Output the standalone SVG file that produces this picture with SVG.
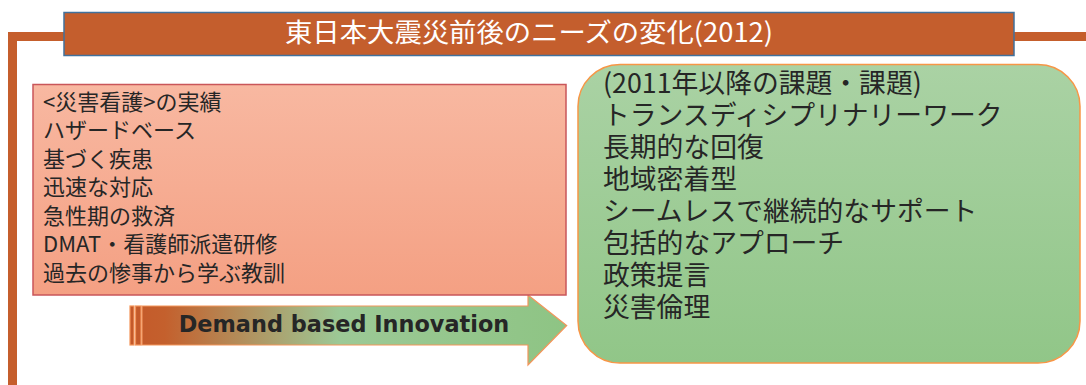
<svg xmlns="http://www.w3.org/2000/svg" width="1086" height="385" viewBox="0 0 1086 385">
<defs>
<linearGradient id="gPink" x1="0" y1="0" x2="0" y2="1"><stop offset="0" stop-color="#F8B8A1"/><stop offset="1" stop-color="#F4A083"/></linearGradient>
<linearGradient id="gGreen" x1="0" y1="0" x2="0" y2="1"><stop offset="0" stop-color="#AAD2A4"/><stop offset="1" stop-color="#91C688"/></linearGradient>
<linearGradient id="gArrow" gradientUnits="userSpaceOnUse" x1="130" y1="0" x2="567" y2="0"><stop offset="0" stop-color="#C4592A"/><stop offset="0.08" stop-color="#C4602D"/><stop offset="0.48" stop-color="#9CC996"/><stop offset="1" stop-color="#8EC484"/></linearGradient>
<style>
.frame{fill:none;stroke:#C55E2C;stroke-width:9}
.jp{font-family:"Noto Sans CJK JP","Noto Sans",sans-serif;fill:#262626}
.pk{font-size:22px}
.gr{font-size:26.8px}
</style>
</defs>
<g id="frame">
<path class="frame" d="M12.5,385 V36.5 H66"/>
<path class="frame" d="M1013,36.5 H1086"/>
</g>
<g id="title">
<rect x="64" y="12.5" width="950" height="43" fill="#C45E2D" stroke="#41719C" stroke-width="1.5"/>
<text x="285" y="41.5" textLength="488" lengthAdjust="spacingAndGlyphs" class="jp" style="font-size:26.5px;fill:#FFFFFF">東日本大震災前後のニーズの変化(2012)</text>
</g>
<g id="connectors">
<path d="M142,306 H528 V295 L566.7,325.5 L528,365 V345 H142 Z" fill="url(#gArrow)" stroke="#F4955A" stroke-width="1.2"/>
<rect x="130" y="306" width="4" height="39" fill="url(#gArrow)" stroke="#F4955A" stroke-width="1.2"/>
<rect x="135.5" y="306" width="5.5" height="39" fill="url(#gArrow)" stroke="#F4955A" stroke-width="1.2"/>
<text x="344" y="332" text-anchor="middle" style="font-family:'DejaVu Sans',sans-serif;font-weight:bold;font-size:22.4px;fill:#262626">Demand based Innovation</text>
</g>
<g id="before">
<rect x="33" y="84.5" width="533" height="210.5" fill="url(#gPink)" stroke="#C9565A" stroke-width="1.5"/>
<text class="jp pk" x="43">
<tspan x="43" y="109.5">&lt;災害看護&gt;の実績</tspan>
<tspan x="43" y="138">ハザードベース</tspan>
<tspan x="43" y="166.5">基づく疾患</tspan>
<tspan x="43" y="195">迅速な対応</tspan>
<tspan x="43" y="223.5">急性期の救済</tspan>
<tspan x="43" y="252">DMAT・看護師派遣研修</tspan>
<tspan x="43" y="280.5">過去の惨事から学ぶ教訓</tspan>
</text>
</g>
<g id="after">
<rect x="578" y="64.5" width="502" height="298.5" rx="42" ry="42" fill="url(#gGreen)" stroke="#F79646" stroke-width="1.5"/>
<text class="jp gr">
<tspan x="603" y="93">(2011年以降の課題・課題)</tspan>
<tspan x="603" y="125">トランスディシプリナリーワーク</tspan>
<tspan x="603" y="157">長期的な回復</tspan>
<tspan x="603" y="189">地域密着型</tspan>
<tspan x="603" y="221">シームレスで継続的なサポート</tspan>
<tspan x="603" y="253">包括的なアプローチ</tspan>
<tspan x="603" y="285">政策提言</tspan>
<tspan x="603" y="317">災害倫理</tspan>
</text>
</g>
</svg>
